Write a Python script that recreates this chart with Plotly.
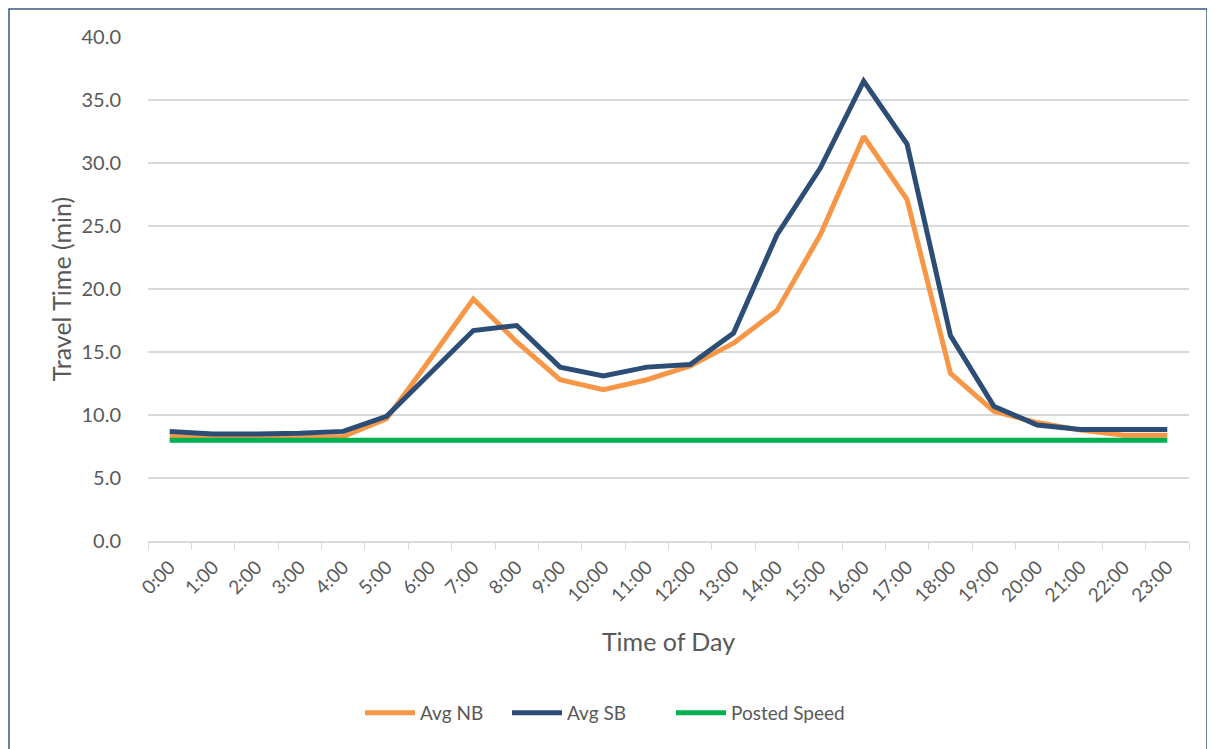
import plotly.graph_objects as go

hours = [f"{h}:00" for h in range(24)]
avg_nb = [8.3, 8.2, 8.2, 8.2, 8.3, 9.7, 14.4, 19.2, 15.8, 12.8, 12.0, 12.8,
          13.9, 15.7, 18.3, 24.3, 32.1, 27.1, 13.3, 10.3, 9.4, 8.8, 8.4, 8.4]
avg_sb = [8.7, 8.5, 8.5, 8.55, 8.7, 9.9, 13.3, 16.7, 17.1, 13.8, 13.1, 13.8,
          14.0, 16.5, 24.3, 29.6, 36.5, 31.5, 16.3, 10.7, 9.2, 8.85, 8.85, 8.85]
posted = [8.0] * 24

y_ticks = [0, 5, 10, 15, 20, 25, 30, 35, 40]

FONT = "Lato"
GREY = "#595959"

fig = go.Figure()
fig.add_trace(go.Scatter(x=hours, y=avg_nb, name="Avg NB", mode="lines", legend="legend",
                         line=dict(color="#F79646", width=5)))
fig.add_trace(go.Scatter(x=hours, y=avg_sb, name="Avg SB", mode="lines", legend="legend2",
                         line=dict(color="#2C4D75", width=5)))
fig.add_trace(go.Scatter(x=hours, y=posted, name="Posted Speed", mode="lines", legend="legend3",
                         line=dict(color="#00B050", width=5)))

OFF = 8  # page body margin
W, H = 1215 - OFF, 749 - OFF
PX0, PX1, PY0, PY1 = 148, 1189, 37, 541
L, T = PX0 - OFF, PY0 - OFF
R = W - (PX1 - OFF)
B = H - (PY1 - OFF)
pw, ph = PX1 - PX0, PY1 - PY0

def px_x(p):
    return (p - PX0) / pw

def px_y(p):
    return (PY1 - p) / ph

fig.add_shape(type="rect", xref="paper", yref="paper",
              x0=px_x(9), x1=px_x(1207), y0=px_y(780), y1=px_y(9),
              line=dict(color="#3A5A7E", width=1.5), fillcolor="rgba(0,0,0,0)",
              layer="below")

def leg(xpx):
    return dict(orientation="h", x=px_x(xpx), xanchor="left",
                y=px_y(713), yanchor="middle", bgcolor="rgba(0,0,0,0)",
                font=dict(size=19, color=GREY, family=FONT), itemwidth=50)

fig.update_layout(
    width=W, height=H,
    margin=dict(l=L, r=R, t=T, b=B),
    paper_bgcolor="white", plot_bgcolor="white",
    font=dict(family=FONT, color=GREY, size=19),
    legend=leg(360), legend2=leg(507), legend3=leg(671),
    showlegend=True,
)
fig.update_xaxes(
    type="category", tickangle=-45, showgrid=False,
    showline=True, linecolor="#D9D9D9", linewidth=1.5,
    ticks="outside", tickson="boundaries", ticklen=7, tickcolor="#D9D9D9",
    ticklabelstandoff=6,
    tickfont=dict(size=19, color=GREY, family=FONT),
    title=dict(text="Time of Day", font=dict(size=25, color=GREY, family=FONT), standoff=28),
    range=[-0.5, 23.5],
)
fig.update_yaxes(
    range=[0, 40], tickvals=y_ticks, tickformat=".1f",
    showgrid=True, gridcolor="#D9D9D9", gridwidth=1.5,
    zeroline=False, showline=False,
    ticks="outside", ticklen=22, tickcolor="rgba(0,0,0,0)",
    tickfont=dict(size=20, color=GREY, family=FONT),
    title=dict(text="Travel Time (min)", font=dict(size=25, color=GREY, family=FONT), standoff=2),
)

fig.write_html("out.html")
